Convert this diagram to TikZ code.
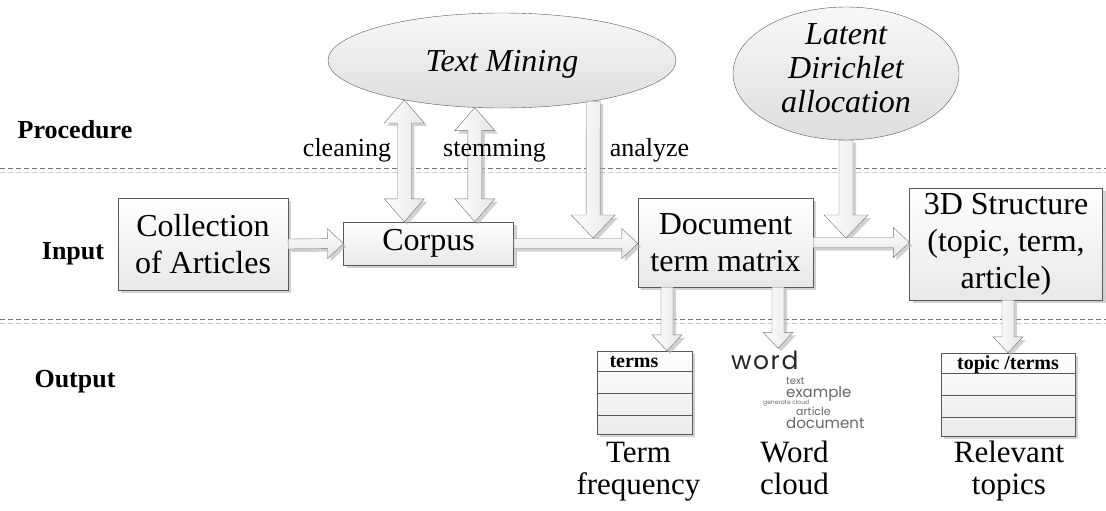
\documentclass[tikz,border=0pt]{standalone}
\usepackage{fontspec}
\setmainfont{Liberation Serif}
\newfontfamily\cloudfont{Poppins}
\usepackage{tikz}
\usetikzlibrary{calc,shapes.geometric,shadows}
\tikzset{
  font={\fontsize{26pt}{30pt}\selectfont},
  dshadow/.style={drop shadow={shadow xshift=3pt,shadow yshift=-3pt,fill=black!30,opacity=.6}},
  box/.style={draw=black!65,top color=white,bottom color=black!9,dshadow,align=center,inner sep=0pt,font={\fontsize{32pt}{37pt}\selectfont}},
  oval/.style={ellipse,draw=black!65,top color=black!3,bottom color=black!13,inner sep=0pt},
  ovaltext/.style={align=center,inner sep=0pt,font={\itshape\fontsize{32pt}{34pt}\selectfont}},
  lane/.style={inner sep=0pt,font={\bfseries\fontsize{26pt}{30pt}\selectfont}},
  tag/.style={anchor=base,inner sep=0pt,font={\fontsize{26pt}{30pt}\selectfont}},
  tbl/.style={draw=black!65,top color=white,bottom color=black!8,dshadow,inner sep=0pt},
  tline/.style={draw=black!65},
  thead/.style={anchor=base,inner sep=0pt,font={\bfseries\fontsize{20pt}{22pt}\selectfont}},
  capt/.style={align=center,anchor=south,text depth=0pt,inner sep=0pt,font={\fontsize{31pt}{32pt}\selectfont}},
  cloudword/.style={anchor=base west,inner sep=0pt,text=black!60},
  vbarrow/.style={draw=black!55,left color=white,right color=black!10,dshadow},
  hbarrow/.style={draw=black!55,top color=white,bottom color=black!10,dshadow},
  sepline/.style={black!55,dash pattern=on 5pt off 3pt,line width=.8pt},
  seplight/.style={black!20,dash pattern=on 5pt off 3pt,line width=.8pt}
}
% block arrow: [style]{from}{to}{half shaft}{half head}{head length}
\newcommand{\blockarrow}[6][vbarrow]{%
  \coordinate (ba) at ($(#3)!#6!(#2)$);
  \draw[#1] ($(#2)!#4!90:(#3)$) -- ($(ba)!#4!-90:(#2)$) -- ($(ba)!#5!-90:(#2)$) -- (#3)
    -- ($(ba)!#5!90:(#2)$) -- ($(ba)!#4!90:(#2)$) -- ($(#2)!#4!-90:(#3)$) -- cycle;}
\newcommand{\dblockarrow}[6][vbarrow]{%
  \coordinate (ba) at ($(#3)!#6!(#2)$);
  \coordinate (bb) at ($(#2)!#6!(#3)$);
  \draw[#1] (#2) -- ($(bb)!#5!90:(#3)$) -- ($(bb)!#4!90:(#3)$) -- ($(ba)!#4!-90:(#2)$)
    -- ($(ba)!#5!-90:(#2)$) -- (#3) -- ($(ba)!#5!90:(#2)$) -- ($(ba)!#4!90:(#2)$)
    -- ($(bb)!#4!-90:(#3)$) -- ($(bb)!#5!-90:(#3)$) -- cycle;}

\begin{document}
\begin{tikzpicture}[x=1pt,y=-1pt]
\useasboundingbox (0,0) rectangle (1106,511);
\draw[sepline] (0,168) -- (1106,168);
\draw[seplight] (0,172) -- (1106,172);
\draw[sepline] (0,319) -- (1106,319);
\draw[seplight] (0,323) -- (1106,323);

\node[lane] (proc) at (75,130) {Procedure};
\node[lane] (inp) at (73,254) {Input};
\node[lane] (outp) at (75,382) {Output};

\node[oval,minimum width=348pt,minimum height=95pt] (tm) at (502,60.5) {};
\node[ovaltext] (tmt) at ([yshift=-4pt]tm.center) {Text Mining};
\node[oval,minimum width=226pt,minimum height=133pt] (lda) at (846,73.5) {};
\node[ovaltext] (ldat) at ([yshift=5pt]lda.center) {Latent\\Dirichlet\\allocation};

\node[box,minimum width=170pt,minimum height=92pt] (coll) at (203,244) {Collection\\of Articles};
\node[box,minimum width=170pt,minimum height=43pt] (corp) at (428.6,243.5) {Corpus};
\node[box,minimum width=175pt,minimum height=89pt] (doc) at (725.5,242.5) {Document\\term matrix};
\node[box,minimum width=193pt,minimum height=112pt] (sd) at (1006,244) {3D Structure\\(topic, term,\\article)};

\node[tbl,minimum width=95pt,minimum height=83pt] (freq) at (644.5,392.5) {};
\foreach \d in {20,42,64}
  \draw[tline] ([yshift=-\d pt]freq.north west) -- ([yshift=-\d pt]freq.north east);
\node[thead] (freqh) at (634,367) {terms};
\node[tbl,minimum width=134pt,minimum height=83pt] (rel) at (1008,394.5) {};
\foreach \d in {20,42,64}
  \draw[tline] ([yshift=-\d pt]rel.north west) -- ([yshift=-\d pt]rel.north east);
\node[thead] (relh) at (1008,369) {topic /terms};

\node[cloudword,text=black!85,font={\cloudfont\addfontfeature{LetterSpace=6}\fontsize{25pt}{25pt}\selectfont}] (wd) at (731,369) {word};
\node[cloudword,font={\cloudfont\fontsize{10pt}{10pt}\selectfont}] (wtext) at (786,384) {text};
\node[cloudword,font={\cloudfont\fontsize{15pt}{15pt}\selectfont}] (wex) at (786,397) {example};
\node[cloudword,font={\cloudfont\fontsize{6pt}{6pt}\selectfont}] (wgen) at (763,404) {generate cloud};
\node[cloudword,font={\cloudfont\fontsize{11pt}{11pt}\selectfont}] (wart) at (796,415) {article};
\node[cloudword,font={\cloudfont\fontsize{15pt}{15pt}\selectfont}] (wdoc) at (786,428) {document};

\node[capt] (freqc) at (638.5,495) {Term\\frequency};
\node[capt] (wordc) at (794.5,495) {Word\\cloud};
\node[capt] (relc) at (1009,495) {Relevant\\topics};

\coordinate (cl) at (tm.202);
\coordinate (clb) at (cl |- corp.north);
\coordinate (st) at (tm.240);
\coordinate (stb) at (st |- corp.north);
\coordinate (an) at (tm.336);
\coordinate (anb) at (593,238);
\coordinate (ld) at (lda.south);
\coordinate (ldb) at (846,238);
\coordinate (cd) at (corp.east -| doc.west);
\coordinate (ds) at (doc.east -| sd.west);
\coordinate (tf) at ([xshift=-58.5pt]doc.south);
\coordinate (tfb) at (tf |- freq.north);
\coordinate (tw) at ([xshift=52.5pt]doc.south);
\coordinate (twb) at ([yshift=2pt]tw |- wd.north);
\coordinate (tr) at (rel.north |- sd.south);

\dblockarrow{cl}{clb}{7pt}{20pt}{23pt}
\dblockarrow{st}{stb}{7pt}{20pt}{23pt}
\blockarrow{an}{anb}{7pt}{22pt}{23pt}
\blockarrow{ld}{ldb}{7pt}{22pt}{23pt}
\blockarrow[hbarrow]{coll.east}{corp.west}{5pt}{15pt}{16pt}
\blockarrow[hbarrow]{corp.east}{cd}{5pt}{15pt}{16pt}
\blockarrow[hbarrow]{doc.east}{ds}{5pt}{15pt}{16pt}
\blockarrow{tf}{tfb}{6pt}{15pt}{16pt}
\blockarrow{tw}{twb}{6pt}{15pt}{16pt}
\blockarrow{tr}{rel.north}{6pt}{15pt}{16pt}

\node[tag] (clean) at (347,156) {cleaning};
\node[tag] (stem) at (494.5,156) {stemming};
\node[tag] (anl) at (649.5,156) {analyze};
\end{tikzpicture}
\end{document}
